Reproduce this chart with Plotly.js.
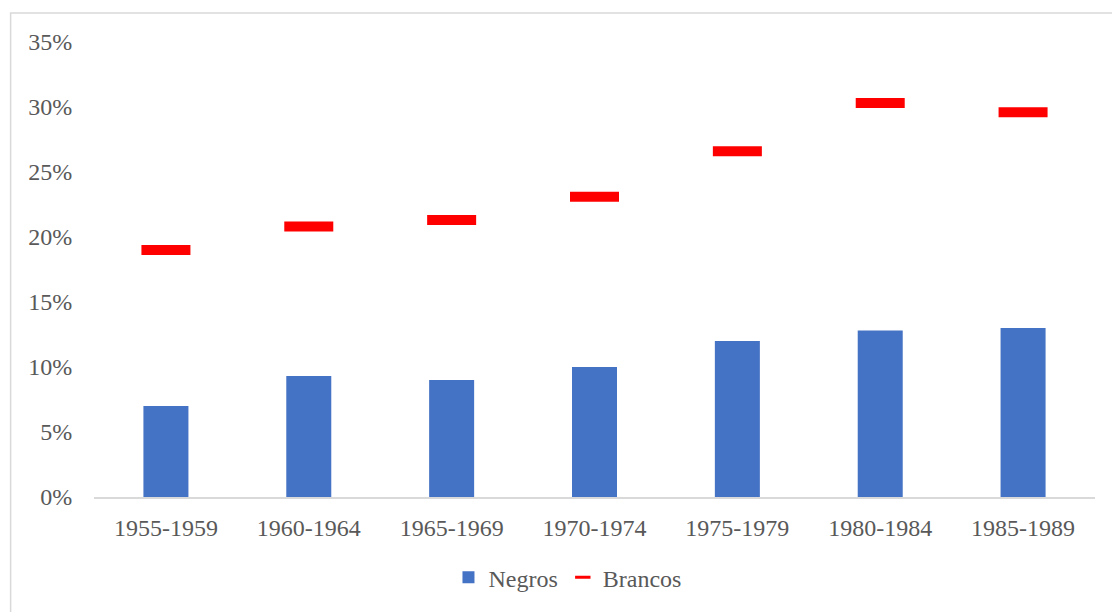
<!DOCTYPE html>
<html>
<head>
<meta charset="utf-8">
<script src="https://cdn.plot.ly/plotly-3.0.1.min.js"></script>
<style>
  html, body { margin: 0; padding: 0; background: #ffffff; }
  #chart { width: 1112px; height: 612px; }
</style>
</head>
<body>
<div id="chart"></div>
<script>
const categories = ["1955-1959", "1960-1964", "1965-1969", "1970-1974", "1975-1979", "1980-1984", "1985-1989"];
const negros = [0.070, 0.093, 0.090, 0.100, 0.120, 0.128, 0.130];
const brancos = [0.190, 0.208, 0.213, 0.231, 0.266, 0.303, 0.296];
const yTickValues = [0, 0.05, 0.10, 0.15, 0.20, 0.25, 0.30, 0.35];
const yTickLabels = ["0%", "5%", "10%", "15%", "20%", "25%", "30%", "35%"];

const fontFamily = '"Liberation Serif", "Times New Roman", serif';
const textColor = '#595959';

const traces = [
  {
    type: 'bar',
    name: 'Negros',
    x: categories,
    y: negros,
    marker: { color: '#4472C4' },
    hoverinfo: 'x+y'
  },
  {
    type: 'scatter',
    mode: 'markers',
    name: 'Brancos',
    legendgroup: 'brancos',
    showlegend: false,
    x: categories,
    y: brancos,
    marker: {
      symbol: 'line-ew',
      size: 35,
      color: '#FF0000',
      line: { color: '#FF0000', width: 10 }
    },
    hoverinfo: 'x+y'
  },
  {
    // legend entry only (smaller dash, like the reference legend key)
    type: 'scatter',
    mode: 'markers',
    name: 'Brancos',
    legendgroup: 'brancos',
    showlegend: true,
    x: [null],
    y: [null],
    marker: {
      symbol: 'line-ew',
      size: 11,
      color: '#FF0000',
      line: { color: '#FF0000', width: 3 }
    },
    hoverinfo: 'skip'
  }
];

const layout = {
  width: 1112,
  height: 612,
  margin: { l: 93.5, r: 16.5, t: 42, b: 113, pad: 0 },
  paper_bgcolor: '#ffffff',
  plot_bgcolor: '#ffffff',
  font: { family: fontFamily, size: 24, color: textColor },
  bargap: 0.685,
  showlegend: true,
  legend: {
    orientation: 'h',
    x: 0.473, xanchor: 'center',
    y: -0.177, yanchor: 'middle',
    itemwidth: 30,
    font: { family: fontFamily, size: 24, color: textColor },
    bgcolor: 'rgba(0,0,0,0)'
  },
  xaxis: {
    type: 'category',
    showgrid: false,
    zeroline: false,
    showline: true,
    linecolor: '#d9d9d9',
    linewidth: 1.5,
    ticks: 'outside',
    ticklen: 8,
    tickcolor: 'rgba(0,0,0,0)',
    tickfont: { family: fontFamily, size: 24, color: textColor },
    fixedrange: true
  },
  yaxis: {
    range: [0, 0.35],
    tickvals: yTickValues,
    ticktext: yTickLabels,
    showgrid: false,
    zeroline: false,
    showline: false,
    ticks: 'outside',
    ticklen: 16,
    tickcolor: 'rgba(0,0,0,0)',
    tickfont: { family: fontFamily, size: 24, color: textColor },
    fixedrange: true
  },
  shapes: [
    {
      type: 'rect',
      xref: 'paper', yref: 'paper',
      x0: -0.0833, x1: 1.2,
      y0: -0.6, y1: 1.0635,
      line: { color: '#d9d9d9', width: 1.5 },
      fillcolor: 'rgba(0,0,0,0)',
      layer: 'below'
    }
  ]
};

Plotly.newPlot('chart', traces, layout, { displayModeBar: false });
</script>
</body>
</html>
